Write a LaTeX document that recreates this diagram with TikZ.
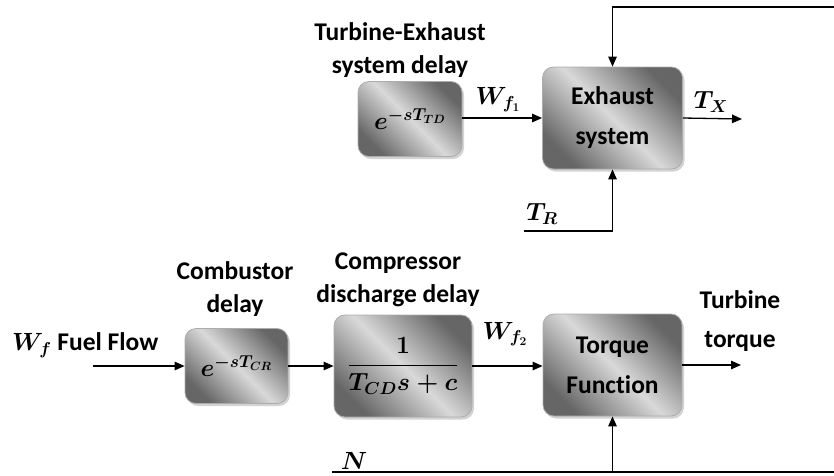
\documentclass[tikz,border=0pt]{standalone}
\usepackage{amsmath}
\usepackage[no-math]{fontspec}
\setmainfont[Ligatures=NoCommon]{Carlito}
\usetikzlibrary{shadows,arrows.meta}
\begin{document}
\begin{tikzpicture}[x=1pt,y=-1pt,
  blk/.style={draw=gray!65, line width=0.8pt, rounded corners=11pt,
    top color=black!60, bottom color=black!60, middle color=black!15, shading angle=-45,
    drop shadow={shadow xshift=2pt, shadow yshift=-2.5pt, opacity=0.35},
    align=center, inner sep=0pt, font=\boldmath\bfseries\fontsize{25.5}{40}\selectfont},
  lbl/.style={align=center, inner sep=0pt, font=\boldmath\bfseries\fontsize{25.5}{33}\selectfont},
  mth/.style={inner sep=0pt, font=\boldmath\fontsize{24}{26}\selectfont},
  bmth/.style={font=\boldmath\fontsize{25}{28}\selectfont},
  sig/.style={line width=1.3pt, -{Triangle[length=10pt,width=8.5pt]}},
  wire/.style={line width=1.3pt}]
\useasboundingbox (0,0) rectangle (834,475);

% top row
\node[blk, bmth, minimum width=104pt, minimum height=75pt] (tdel) at (410,119) {$e^{-sT_{TD}}$};
\node[blk, minimum width=140pt, minimum height=102pt] (exh) at (612.5,118) {Exhaust\\system};
\node[lbl] (tdl) at (400,50) {Turbine-Exhaust\\system delay};
\node[mth] (wf1) at (498,100) {$W_{f_1}$};
\node[mth] (tx) at (711,102) {$T_X$};
\node[mth] (tr) at (542,214) {$T_R$};
\coordinate (fbt) at (834,7);
\coordinate (trin) at (524,231);
\coordinate (txo) at (742,119);
\draw[sig] (tdel.east |- exh.west) -- (exh.west);
\draw[sig] (fbt) -| (exh.north);
\draw[sig] (trin) -| (exh.south);
\draw[sig] (exh.east) -- (txo);

% bottom row
\node[blk, bmth, minimum width=103pt, minimum height=75pt] (comb) at (236.5,366) {$e^{-sT_{CR}}$};
\node[blk, font=\boldmath\fontsize{24}{26}\selectfont, minimum width=138pt, minimum height=102pt] (comp) at (403,366) {$\dfrac{1}{T_{CD}s+c}$};
\node[blk, minimum width=139pt, minimum height=102pt] (torq) at (612.5,365) {Torque\\Function};
\node[lbl] (cbl) at (235,289) {Combustor\\delay};
\node[lbl] (cpl) at (398,280) {Compressor\\discharge delay};
\node[lbl, anchor=west] (wf) at (12,345) {{\fontsize{24}{26}\selectfont$W_f$} Fuel Flow};
\node[mth] (wf2) at (505,334) {$W_{f_2}$};
\node[lbl, font=\bfseries\fontsize{25.5}{39}\selectfont] (ttq) at (740,321) {Turbine\\torque};
\node[mth] (nn) at (354,461) {$N$};
\coordinate (win) at (93,366);
\coordinate (tqo) at (741,365);
\coordinate (nl) at (332,472);
\coordinate (nr) at (834,472);
\draw[sig] (win) -- (comb.west);
\draw[sig] (comb.east) -- (comp.west);
\draw[sig] (comp.east) -- (torq.west |- comp.east);
\draw[sig] (torq.east) -- (tqo);
\draw[wire] (nl) -- (nr);
\draw[sig] (torq.south |- nl) -- (torq.south);
\end{tikzpicture}
\end{document}
